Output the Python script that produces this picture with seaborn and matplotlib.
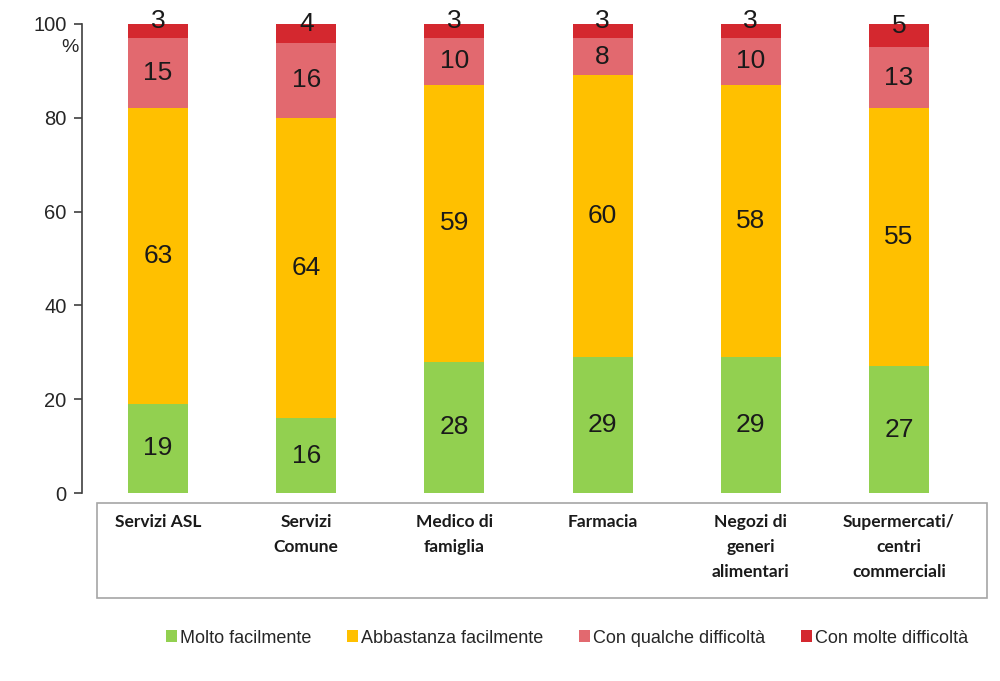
import numpy as np
import pandas as pd
import matplotlib
matplotlib.use("Agg")
import matplotlib.pyplot as plt
from matplotlib.patches import Patch, Rectangle
import seaborn as sns

# ── Data ────────────────────────────────────
categories = ["Servizi ASL", "Servizi\nComune", "Medico di\nfamiglia", "Farmacia",
              "Negozi di\ngeneri\nalimentari", "Supermercati/\ncentri\ncommerciali"]
molto = [19, 16, 28, 29, 29, 27]
abbastanza = [63, 64, 59, 60, 58, 55]
qualche = [15, 16, 10, 8, 10, 13]
molte = [3, 4, 3, 3, 3, 5]

series_names = ["Molto facilmente", "Abbastanza facilmente",
                "Con qualche difficoltà", "Con molte difficoltà"]
colors = ["#92D050", "#FFC000", "#E2696F", "#D4282F"]

sns.set_style("white")
plt.rcParams["font.family"] = ["Liberation Sans", "DejaVu Sans"]

df = pd.DataFrame({"cat": categories, series_names[0]: molto, series_names[1]: abbastanza,
                   series_names[2]: qualche, series_names[3]: molte})
cum = df[series_names].cumsum(axis=1)

fig = plt.figure(figsize=(10, 6.81), dpi=100)
ax = fig.add_axes([0.082, 0.276, 0.905, 0.689])

# stacked bars: draw cumulative totals from the top layer down
for name, col in reversed(list(zip(series_names, colors))):
    sns.barplot(x=df["cat"], y=cum[name], color=col, saturation=1, width=0.405,
                ax=ax, edgecolor="none")

# value labels
bottoms = np.zeros(len(categories))
for name in series_names:
    vals = df[name].to_numpy()
    for i, v in enumerate(vals):
        y = bottoms[i] + v / 2
        if name == series_names[-1]:
            y += 2
        ax.text(i, y, str(v), ha="center", va="center", fontsize=19, color="#1a1a1a")
    bottoms += vals

ax.set_xlim(-0.513, 5.594)
ax.set_ylim(0, 100)
ax.set_yticks(range(0, 101, 20))
ax.set_xticks([])
ax.set_xlabel("")
ax.set_ylabel("")
for s in ["top", "right", "bottom"]:
    ax.spines[s].set_visible(False)
ax.spines["left"].set_color("#404040")
ax.spines["left"].set_linewidth(1.2)
ax.tick_params(axis="y", direction="out", length=6, width=1.2, color="#404040",
               labelsize=14.5, pad=5, left=True)
fig.text(0.07, 0.93, "%", ha="center", va="center", fontsize=14)

# category box under the bars
fig.patches.append(Rectangle((0.097, 0.122), 0.89, 0.1395, transform=fig.transFigure,
                             fill=False, edgecolor="#A6A6A6", linewidth=1.2))
for i, c in enumerate(categories):
    ax.text(i, -0.045, c, transform=ax.get_xaxis_transform(), ha="center", va="top",
            fontsize=12.5, fontweight="bold", family=["Lato", "DejaVu Sans"],
            linespacing=1.7, color="#1a1a1a")

handles = [Patch(facecolor=c, edgecolor="none") for c in colors]
fig.legend(handles, series_names, loc="center", bbox_to_anchor=(0.567, 0.063), ncol=4,
           frameon=False, fontsize=13, handlelength=0.6, handleheight=0.6,
           handletextpad=0.15, columnspacing=2.0)

fig.savefig("out.png", dpi=100)
